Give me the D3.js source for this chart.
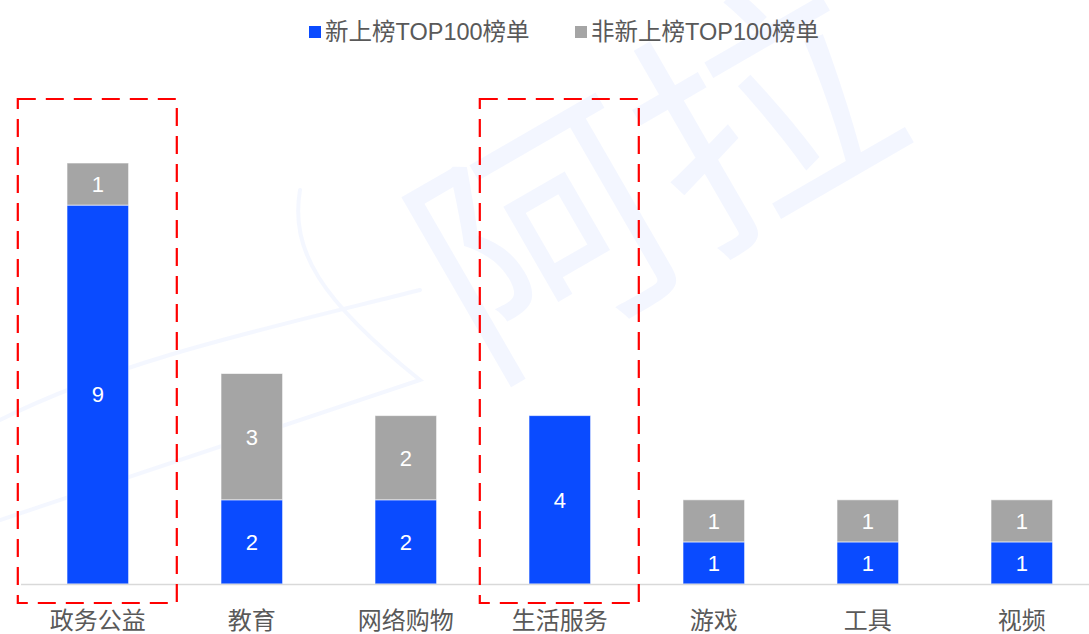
<!DOCTYPE html>
<html>
<head>
<meta charset="utf-8">
<script src="https://cdn.jsdelivr.net/npm/d3@7"></script>
<style>
  html, body { margin: 0; padding: 0; background: #fff; }
  svg { display: block; font-family: "Liberation Sans", "Noto Sans CJK SC", Arial, sans-serif; }
</style>
</head>
<body>
<svg id="chart" width="1089" height="634"></svg>
<script>
// Category counts
const categories = ["政务公益", "教育", "网络购物", "生活服务", "游戏", "工具", "视频"];
const newEntries = [9, 2, 2, 4, 1, 1, 1];      // 新上榜TOP100榜单
const existingEntries = [1, 3, 2, 0, 1, 1, 1]; // 非新上榜TOP100榜单
const seriesNames = ["新上榜TOP100榜单", "非新上榜TOP100榜单"];
const highlighted = ["政务公益", "生活服务"];

const colors = ["#0A4BFF", "#A5A5A5"];
const W = 1089, H = 634;
const svg = d3.select("#chart");

const rows = categories.map((c, i) => ({ cat: c, s0: newEntries[i], s1: existingEntries[i] }));
const stack = d3.stack().keys(["s0", "s1"])(rows);

const x = d3.scaleBand().domain(categories).range([20.8, 1098.8]).paddingInner(0.6).paddingOuter(0.3);
const y = d3.scaleLinear().domain([0, 10]).range([584, 163]);

// Faint watermark behind/over the plot
const wm = svg.append("g").attr("pointer-events", "none");

// Bars
const layers = svg.append("g").selectAll("g").data(stack).join("g")
  .attr("fill", (d, i) => colors[i]);

layers.selectAll("rect").data(d => d.filter(p => p[1] - p[0] > 0)).join("rect")
  .attr("x", d => x(d.data.cat))
  .attr("width", x.bandwidth())
  .attr("y", d => y(d[1]))
  .attr("height", d => y(d[0]) - y(d[1]))
  .attr("stroke", "rgba(255,255,255,0.6)")
  .attr("stroke-width", 1);

// Segment value labels
layers.selectAll("text").data(d => d.filter(p => p[1] - p[0] > 0)).join("text")
  .attr("x", d => x(d.data.cat) + x.bandwidth() / 2)
  .attr("y", d => (y(d[0]) + y(d[1])) / 2)
  .attr("dy", "0.36em")
  .attr("text-anchor", "middle")
  .attr("fill", "#fff")
  .attr("font-size", 22)
  .text(d => d[1] - d[0]);

// Category axis
const axisG = svg.append("g").attr("transform", `translate(0,${y(0)})`);
axisG.append("line").attr("x1", 21).attr("x2", W).attr("y1", 0.5).attr("y2", 0.5)
  .attr("stroke", "#D9D9D9").attr("stroke-width", 1.5);
axisG.selectAll("text.cat").data(categories).join("text")
  .attr("class", "cat")
  .attr("x", d => x(d) + x.bandwidth() / 2)
  .attr("y", 37)
  .attr("dy", "0.35em")
  .attr("text-anchor", "middle")
  .attr("fill", "#595959")
  .attr("font-size", 24)
  .text(d => d);

// Dashed highlight frames
svg.append("g").selectAll("rect").data(highlighted).join("rect")
  .attr("x", d => x(d) + x.bandwidth() / 2 - 80)
  .attr("width", 159)
  .attr("y", 99)
  .attr("height", 504)
  .attr("fill", "none")
  .attr("stroke", "#FF0000")
  .attr("stroke-width", 2.2)
  .attr("stroke-dasharray", "18 10");

// Legend
const legend = svg.append("g").attr("transform", "translate(0,32)");
const legendX = [309, 575];
seriesNames.forEach((name, i) => {
  const g = legend.append("g").attr("transform", `translate(${legendX[i]},0)`);
  g.append("rect").attr("x", 0).attr("y", -6).attr("width", 12).attr("height", 12).attr("fill", colors[i]);
  g.append("text").attr("x", 16).attr("y", 0).attr("dy", "0.36em")
    .attr("fill", "#595959").attr("font-size", 23.5).text(name);
});

wm.append("text")
  .attr("transform", "translate(700,255) rotate(-30)")
  .attr("text-anchor", "middle")
  .attr("font-size", 250)
  .attr("font-family", "'Noto Sans CJK SC', sans-serif")
  .attr("font-weight", 400)
  .attr("fill", "#2F66FF")
  .attr("fill-opacity", 0.06)
  .text("阿拉");
wm.append("path")
  .attr("d", "M0,420 C120,360 260,330 420,290 M0,520 C150,470 300,420 420,380 C320,300 290,250 300,190")
  .attr("fill", "none").attr("stroke", "#2F66FF").attr("stroke-opacity", 0.05).attr("stroke-width", 4)
  .attr("stroke-linecap", "round");
</script>
</body>
</html>
